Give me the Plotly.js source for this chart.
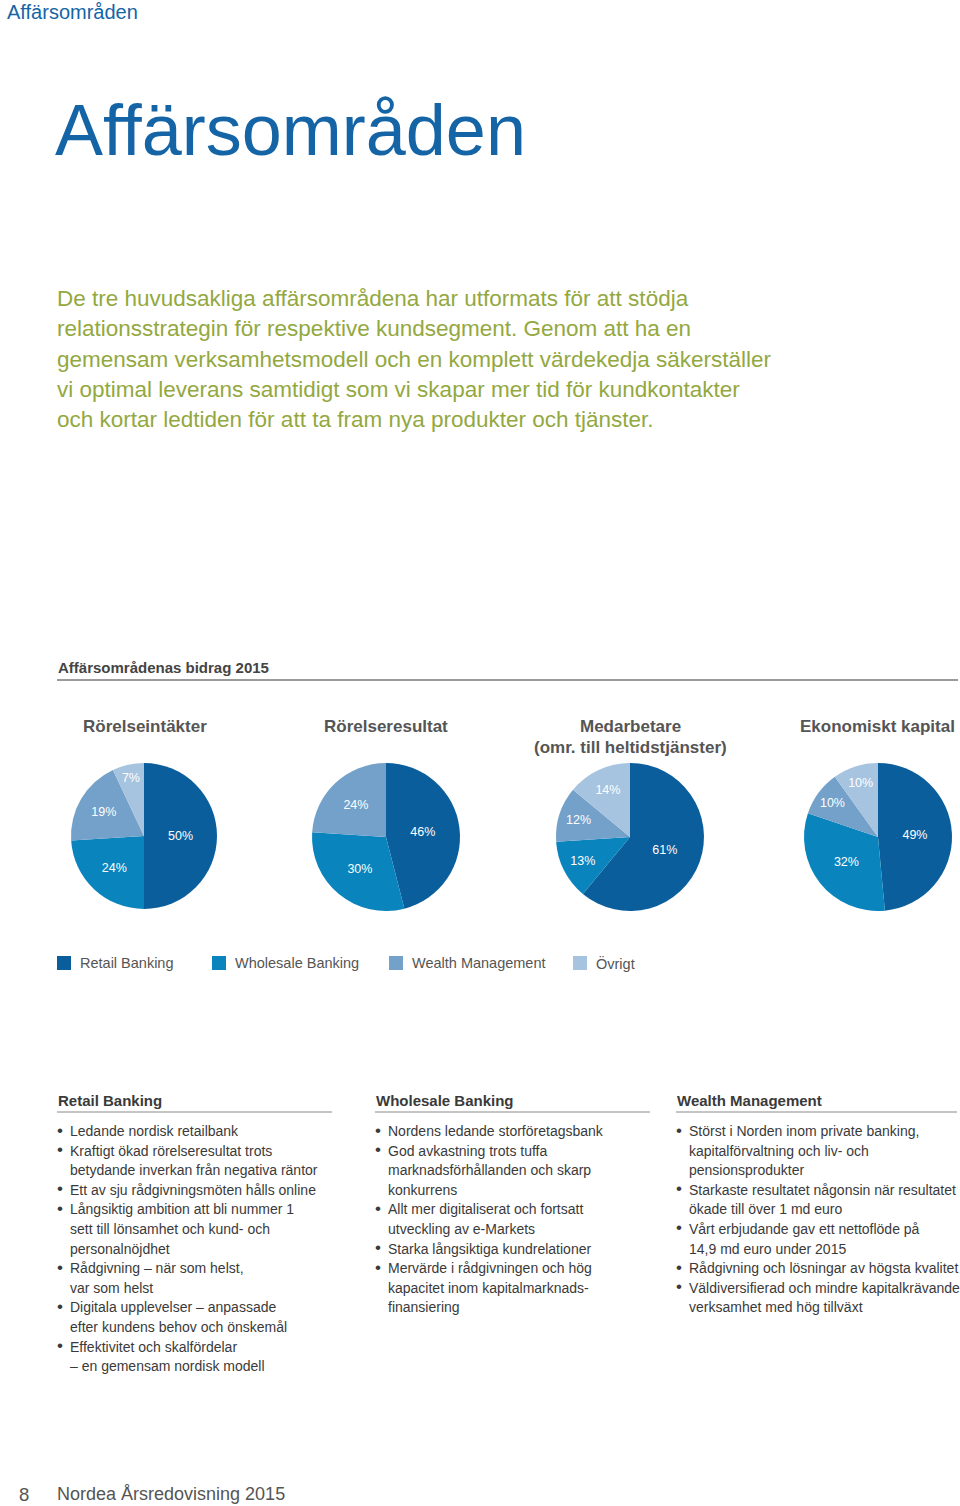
<!DOCTYPE html>
<html>
<head>
<meta charset="utf-8">
<script src="https://cdn.plot.ly/plotly-3.0.1.min.js"></script>
<style>
  html, body { margin: 0; padding: 0; background: #ffffff; }
  #chart { width: 960px; height: 1506px; }
</style>
</head>
<body>
<div id="chart"></div>
<script>
// ---------------- DATA ----------------
const categories = ['Retail Banking', 'Wholesale Banking', 'Wealth Management', 'Övrigt'];
const pieTitles = ['Rörelseintäkter', 'Rörelseresultat', 'Medarbetare<br>(omr. till heltidstjänster)', 'Ekonomiskt kapital'];
const rorelseintakter = [50, 24, 19, 7];
const rorelseresultat = [46, 30, 24, 0];
const medarbetare = [61, 13, 12, 14];
const ekonomisktKapital = [49, 32, 10, 10];

const pageHeader = 'Affärsområden';
const mainTitle = 'Affärsområden';
const introLines = [
  'De tre huvudsakliga affärsområdena har utformats för att stödja',
  'relationsstrategin för respektive kundsegment. Genom att ha en',
  'gemensam verksamhetsmodell och en komplett värdekedja säkerställer',
  'vi optimal leverans samtidigt som vi skapar mer tid för kundkontakter',
  'och kortar ledtiden för att ta fram nya produkter och tjänster.'
];
const sectionTitle = 'Affärsområdenas bidrag 2015';

const retailBullets = [
  ['Ledande nordisk retailbank'],
  ['Kraftigt ökad rörelseresultat trots', 'betydande inverkan från negativa räntor'],
  ['Ett av sju rådgivningsmöten hålls online'],
  ['Långsiktig ambition att bli nummer 1', 'sett till lönsamhet och kund- och', 'personalnöjdhet'],
  ['Rådgivning – när som helst,', 'var som helst'],
  ['Digitala upplevelser – anpassade', 'efter kundens behov och önskemål'],
  ['Effektivitet och skalfördelar', '– en gemensam nordisk modell']
];
const wholesaleBullets = [
  ['Nordens ledande storföretagsbank'],
  ['God avkastning trots tuffa', 'marknadsförhållanden och skarp', 'konkurrens'],
  ['Allt mer digitaliserat och fortsatt', 'utveckling av e-Markets'],
  ['Starka långsiktiga kundrelationer'],
  ['Mervärde i rådgivningen och hög', 'kapacitet inom kapitalmarknads-', 'finansiering']
];
const wealthBullets = [
  ['Störst i Norden inom private banking,', 'kapitalförvaltning och liv- och', 'pensionsprodukter'],
  ['Starkaste resultatet någonsin när resultatet', 'ökade till över 1 md euro'],
  ['Vårt erbjudande gav ett nettoflöde på', '14,9 md euro under 2015'],
  ['Rådgivning och lösningar av högsta kvalitet'],
  ['Väldiversifierad och mindre kapitalkrävande', 'verksamhet med hög tillväxt']
];
const columnTitles = ['Retail Banking', 'Wholesale Banking', 'Wealth Management'];
const footerPage = '8';
const footerText = 'Nordea Årsredovisning 2015';

// ---------------- STYLE / LAYOUT ----------------
const W = 960, H = 1506;
const FONT = 'Liberation Sans, Arial, Helvetica, sans-serif';
const sliceColors = ['#0b5e9c', '#0a84bd', '#74a1c9', '#a6c4df'];
const blue = '#1565a6';
const green = '#93a83f';
const grey = '#555555';
const dark = '#3a3a3a';

function px(x) { return x / W; }
function py(y) { return 1 - y / H; }
function ann(x, y, text, size, color, anchor, extra) {
  return Object.assign({
    x: px(x), y: py(y), xref: 'paper', yref: 'paper',
    xanchor: anchor || 'left', yanchor: 'middle',
    text: text, showarrow: false, borderpad: 0,
    font: { family: FONT, size: size, color: color }
  }, extra || {});
}

const annotations = [];
const shapes = [];

// header texts
annotations.push(ann(6, 12, pageHeader, 20, blue));
annotations.push(ann(54, 130, mainTitle, 72, blue));
introLines.forEach((l, i) => {
  annotations.push(ann(56, 298 + i * 30.5, l, 22.5, green));
});

// section title + rule
annotations.push(ann(57, 667, '<b>' + sectionTitle + '</b>', 15, '#444444'));
shapes.push({ type: 'line', xref: 'paper', yref: 'paper', x0: px(57), x1: px(958), y0: py(680), y1: py(680), line: { color: '#7a7a7a', width: 1.5 } });

// pies
const pieSeries = [rorelseintakter, rorelseresultat, medarbetare, ekonomisktKapital];
const pieGeom = [
  { cx: 144, cy: 836, r: 73 },
  { cx: 386, cy: 837, r: 74 },
  { cx: 630, cy: 837, r: 74 },
  { cx: 878, cy: 837, r: 74 }
];
const titleCenters = [145, 386, 630, 877];
const traces = pieSeries.map((vals, i) => {
  const g = pieGeom[i];
  const idx = vals.map((v, k) => k).filter(k => vals[k] > 0);
  return {
    type: 'pie',
    labels: idx.map(k => categories[k]),
    values: idx.map(k => vals[k]),
    marker: { colors: idx.map(k => sliceColors[k]), line: { width: 0 } },
    sort: false,
    direction: 'clockwise',
    rotation: 0,
    textposition: 'inside',
    insidetextorientation: 'horizontal',
    texttemplate: '%{value}%',
    textfont: { family: FONT, size: 12.5, color: '#ffffff' },
    hoverinfo: 'label+value',
    showlegend: false,
    domain: { x: [px(g.cx - g.r), px(g.cx + g.r)], y: [py(g.cy + g.r), py(g.cy - g.r)] }
  };
});
pieTitles.forEach((t, i) => {
  const lines = t.split('<br>');
  lines.forEach((l, j) => {
    annotations.push(ann(titleCenters[i], 726 + j * 21, '<b>' + l + '</b>', 17, grey, 'center'));
  });
});

// legend (built from categories + colours)
const legendSwatchX = [57, 212, 389, 573];
categories.forEach((c, i) => {
  const x0 = legendSwatchX[i];
  shapes.push({ type: 'rect', xref: 'paper', yref: 'paper', x0: px(x0), x1: px(x0 + 14), y0: py(970), y1: py(956), fillcolor: sliceColors[i], line: { width: 0 } });
  annotations.push(ann(x0 + 22, 963, c, 14.5, grey));
});

// bullet columns
const colX = [57, 375, 676];
const colRight = [332, 650, 957];
const colBullets = [retailBullets, wholesaleBullets, wealthBullets];
columnTitles.forEach((t, i) => {
  annotations.push(ann(colX[i], 1100, '<b>' + t + '</b>', 15, dark));
  shapes.push({ type: 'line', xref: 'paper', yref: 'paper', x0: px(colX[i]), x1: px(colRight[i]), y0: py(1112), y1: py(1112), line: { color: '#8a8a8a', width: 1 } });
  let y = 1131;
  colBullets[i].forEach(item => {
    annotations.push(ann(colX[i] - 1, y - 1, '•', 17, dark));
    item.forEach(line => {
      annotations.push(ann(colX[i] + 12, y, line, 14, dark));
      y += 19.6;
    });
  });
});

// footer
annotations.push(ann(18, 1494, footerPage, 18.5, grey));
annotations.push(ann(56, 1494, footerText, 18, grey));

const layout = {
  width: W, height: H,
  margin: { l: 0, r: 0, t: 0, b: 0 },
  paper_bgcolor: '#ffffff',
  plot_bgcolor: '#ffffff',
  showlegend: false,
  annotations: annotations,
  shapes: shapes,
  font: { family: FONT }
};

Plotly.newPlot('chart', traces, layout, { displayModeBar: false, staticPlot: true });
</script>
</body>
</html>
